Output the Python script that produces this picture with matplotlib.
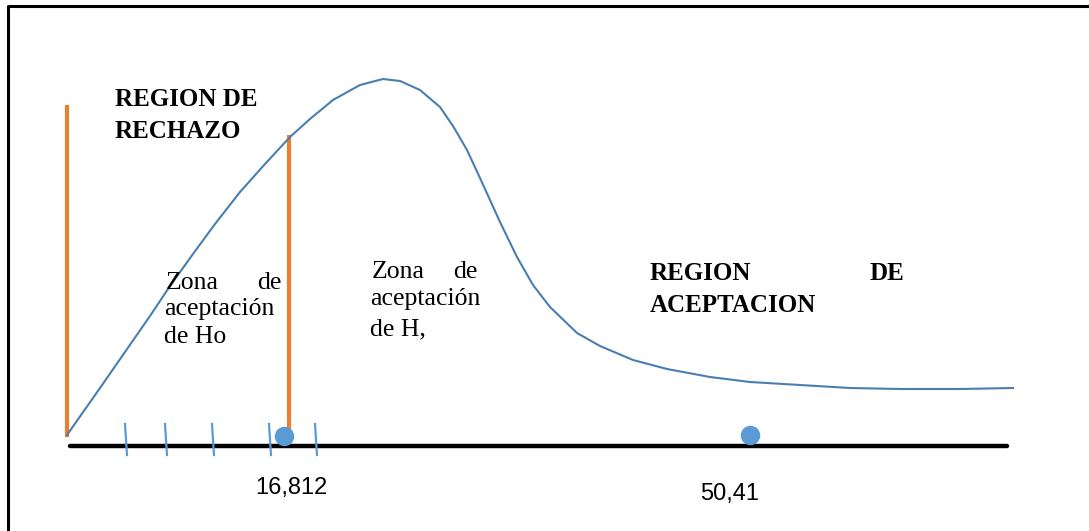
#!/usr/bin/env python3
import matplotlib
matplotlib.use("Agg")
import matplotlib.pyplot as plt

# drawing is laid out in picture pixels (x right, y down)
curve_x = [67, 100, 125, 150, 170, 193, 215, 240, 265, 290, 310, 333, 360, 383,
           400, 420, 440, 453, 467, 480, 490, 500, 517, 533, 550, 577, 600, 633,
           667, 710, 750, 800, 850, 900, 960, 1013]
curve_y = [435, 388, 352, 316, 286, 254, 224, 192, 164, 137, 119, 100, 85, 79,
           81, 90, 107, 126, 150, 178, 200, 222, 257, 285, 307, 333, 346, 360,
           369, 377, 382, 385, 388, 389, 389, 388]

reject_x = [67, 289]
reject_top = [107, 137]
reject_bottom = [435, 432]

tick_x = [126, 166, 213, 270, 316]
crit_x = [284, 750]
crit_labels = ["16,812", "50,41"]

axis_y = 446
serif = ["Liberation Serif", "DejaVu Serif"]


def main():
    fig = plt.figure(figsize=(10.89, 5.31), dpi=100)
    ax = fig.add_axes([0, 0, 1, 1])
    ax.set_xlim(0, 1089)
    ax.set_ylim(531, 0)
    ax.axis("off")

    # frame (top and left only)
    ax.plot([8, 1089], [6, 6], color="black", lw=2.2, solid_capstyle="butt")
    ax.plot([8, 8], [5, 531], color="black", lw=2.2, solid_capstyle="butt")

    # base line
    ax.plot([70, 1007], [axis_y, axis_y], color="black", lw=3.2,
            solid_capstyle="round", zorder=2)
    for x in tick_x:
        ax.plot([x - 1, x + 1], [424, 455], color="#5b9bd5", lw=1.6, zorder=3)

    # distribution curve
    ax.plot(curve_x, curve_y, color="#4a7eb0", lw=1.5, zorder=3,
            solid_joinstyle="round")

    # rejection limits
    for x, t, b in zip(reject_x, reject_top, reject_bottom):
        ax.plot([x, x], [t, b], color="#ed7d31", lw=3, zorder=2)

    # critical values
    ax.plot(crit_x, [436, 435], "o", color="#5b9bd5", markersize=13, zorder=4)
    ax.text(291, 488, crit_labels[0], fontsize=17, family="Liberation Sans",
            ha="center", va="center")
    ax.text(730, 494, crit_labels[1], fontsize=17, family="Liberation Sans",
            ha="center", va="center")

    # labels
    caps = dict(fontsize=18, family=serif, fontweight="bold", va="center")
    ax.text(115, 100, "REGION DE", **caps)
    ax.text(115, 131, "RECHAZO", **caps)

    low = dict(fontsize=18.5, family=serif, va="center")
    ax.text(166, 283, "Zona", **low)
    ax.text(281, 283, "de", ha="right", **low)
    ax.text(164, 309, "aceptación", **low)
    ax.text(164, 337, "de Ho", **low)

    ax.text(372, 272, "Zona", **low)
    ax.text(477, 272, "de", ha="right", **low)
    ax.text(370, 299, "aceptación", **low)
    ax.text(370, 329, "de H,", **low)

    ax.text(650, 273, "REGION", **caps)
    ax.text(904, 273, "DE", ha="right", **caps)
    ax.text(650, 305, "ACEPTACION", **caps)

    fig.savefig("out.png", dpi=100)


if __name__ == "__main__":
    main()
